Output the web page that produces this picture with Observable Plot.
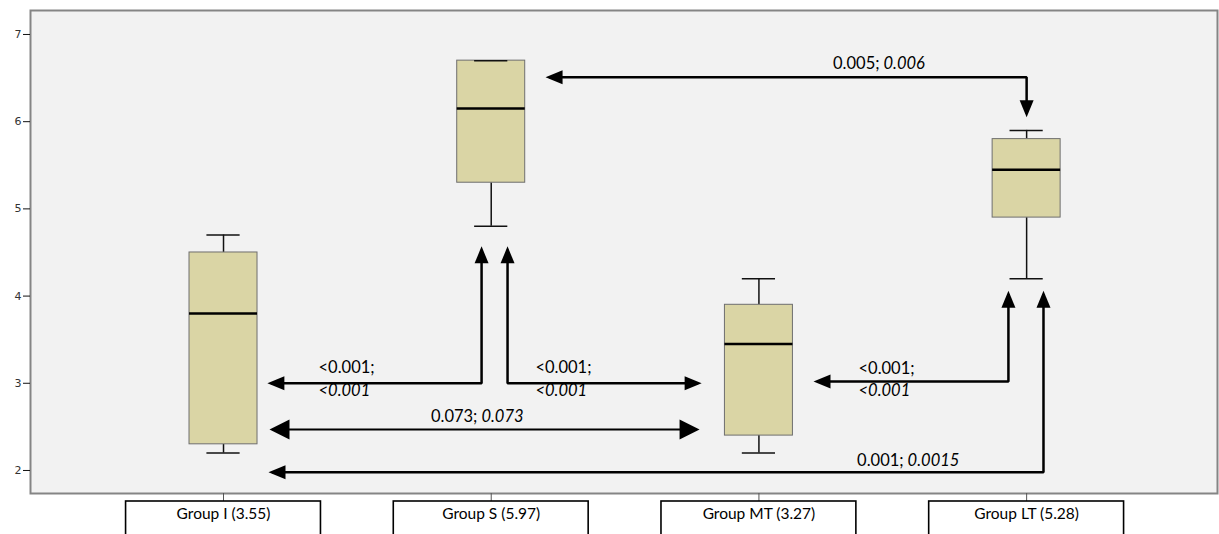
<!DOCTYPE html>
<html><head><meta charset="utf-8">
<script src="https://cdn.jsdelivr.net/npm/d3@7"></script>
<script src="https://cdn.jsdelivr.net/npm/@observablehq/plot@0.6"></script>
<style>
body{margin:0;background:#fff;}
g[aria-label="arrowhead"]{filter:drop-shadow(2px 3px 2px rgba(0,0,0,0.45));}
g[aria-label="group box"]{filter:drop-shadow(2px 3px 3px rgba(0,0,0,0.3));}
</style></head><body><div id="chart"></div>
<script>
// ---- data ----
const groups = ["Group I", "Group S", "Group MT", "Group LT"];
const groupMeans = [3.55, 5.97, 3.27, 5.28];
const whiskerLow = [2.2, 4.8, 2.2, 4.2];
const quartile1 = [2.3, 5.3, 2.4, 4.9];
const medians = [3.8, 6.15, 3.45, 5.45];
const quartile3 = [4.5, 6.7, 3.9, 5.8];
const whiskerHigh = [4.7, 6.7, 4.2, 5.9];
const yTicks = [2, 3, 4, 5, 6, 7];

// comparison connectors: [group position, value]
const connectorIS   = [[0.177, 3.0], [0.964, 3.0], [0.964, 4.53]];
const connectorSMT  = [[1.061, 4.53], [1.061, 3.0], [1.773, 3.0]];
const connectorMTLT = [[2.217, 3.02], [2.932, 3.02], [2.932, 4.02]];
const connectorILT  = [[0.181, 1.98], [3.063, 1.98], [3.063, 4.02]];
const connectorSLT  = [[1.216, 6.51], [3.0, 6.51], [3.0, 6.09]];
const connectorIMT  = [[0.183, 2.47], [1.767, 2.47]];

// p-value labels (upright; italic)
const stackedLabels = [
  {x: 0.355, yA: 3.18, yB: 2.92, p: "<0.001;", q: "<0.001"},
  {x: 1.165, yA: 3.18, yB: 2.92, p: "<0.001;", q: "<0.001"},
  {x: 2.372, yA: 3.17, yB: 2.92, p: "<0.001;", q: "<0.001"}
];
const inlineLabels = [
  {x: 0.956, y: 2.62, p: "0.073;", q: "0.073"},
  {x: 2.548, y: 2.115, p: "0.001;", q: "0.0015"},
  {x: 2.458, y: 6.66, p: "0.005;", q: "0.006"}
];

// ---- build ----
const rows = groups.map((g, i) => ({
  i, label: `${g} (${groupMeans[i].toFixed(2)})`,
  lo: whiskerLow[i], q1: quartile1[i], med: medians[i], q3: quartile3[i], hi: whiskerHigh[i]
}));
const boxHalf = 0.127, capHalf = 0.062, labelHalf = 0.364;
const yMin = 1.736, yMax = 7.275;

function toPts(arr, id) { return arr.map(([x, y]) => ({x, y, id})); }
const thick = [connectorIS, connectorSMT, connectorMTLT, connectorILT, connectorSLT];
const linePts = thick.flatMap((c, k) => toPts(c, k));
const thinPts = toPts(connectorIMT, 99);

function dirOf(a, b) { // pointing from b toward end point a
  const dx = a[0] - b[0], dy = a[1] - b[1];
  if (dx === 0) return dy > 0 ? 0 : 180;
  return dx > 0 ? 90 : -90;
}
function headsOf(c) {
  const n = c.length;
  return [
    {x: c[0][0], y: c[0][1], rot: dirOf(c[0], c[1])},
    {x: c[n-1][0], y: c[n-1][1], rot: dirOf(c[n-1], c[n-2])}
  ];
}
const heads = thick.flatMap(headsOf);
const bigHeads = headsOf(connectorIMT);

function headSymbol(L, W, off) {
  return {draw(ctx) {
    ctx.moveTo(0, -off); ctx.lineTo(W / 2, L - off); ctx.lineTo(-W / 2, L - off); ctx.closePath();
  }};
}

const chart = Plot.plot({
  width: 1219, height: 534,
  marginLeft: 30, marginRight: 2, marginTop: 10, marginBottom: 41,
  style: {fontFamily: "Lato", fontSize: "16.5px", background: "white", color: "#000"},
  x: {type: "linear", domain: [-0.721, 3.713]},
  y: {domain: [yMin, yMax]},
  marks: [
    Plot.frame({fill: "#f2f2f2", stroke: "none"}),
    Plot.ruleX(rows, {x: "i", y1: "q3", y2: "hi", stroke: "#111", strokeWidth: 1.5}),
    Plot.ruleX(rows, {x: "i", y1: "lo", y2: "q1", stroke: "#111", strokeWidth: 1.5}),
    Plot.rect(rows, {x1: d => d.i - boxHalf, x2: d => d.i + boxHalf, y1: "q1", y2: "q3",
      fill: "#dad5a5", stroke: "#6e6e6e", strokeWidth: 1}),
    Plot.ruleY(rows, {y: "hi", x1: d => d.i - capHalf, x2: d => d.i + capHalf, stroke: "#111", strokeWidth: 1.5}),
    Plot.ruleY(rows, {y: "lo", x1: d => d.i - capHalf, x2: d => d.i + capHalf, stroke: "#111", strokeWidth: 1.5}),
    Plot.ruleY(rows, {y: "med", x1: d => d.i - boxHalf, x2: d => d.i + boxHalf, stroke: "#000", strokeWidth: 2.5}),
    Plot.frame({stroke: "#858585", strokeWidth: 2}),
    Plot.axisY(yTicks, {tickSize: 7, tickPadding: 2, tickFormat: "d", fontSize: 11, fontFamily: "DejaVu Sans",
      color: "#333", stroke: "#111", label: null}),
    Plot.axisX([0, 1, 2, 3], {tickSize: 8, tickFormat: () => "", stroke: "#555", label: null}),
    Plot.line(linePts, {x: "x", y: "y", z: "id", stroke: "#000", strokeWidth: 2.5,
      strokeLinejoin: "miter", strokeLinecap: "butt"}),
    Plot.line(thinPts, {x: "x", y: "y", z: "id", stroke: "#000", strokeWidth: 2,
      strokeLinecap: "butt"}),
    Plot.dot(heads, {x: "x", y: "y", rotate: "rot", r: 5, symbol: headSymbol(17, 14, 3.5),
      fill: "#000", stroke: "none", ariaLabel: "arrowhead"}),
    Plot.dot(bigHeads, {x: "x", y: "y", rotate: "rot", r: 5, symbol: headSymbol(20, 20, 3),
      fill: "#000", stroke: "none", ariaLabel: "arrowhead"}),
    Plot.text(stackedLabels, {x: "x", y: "yA", text: "p", textAnchor: "start", fill: "#000"}),
    Plot.text(stackedLabels, {x: "x", y: "yB", text: "q", textAnchor: "start", fontStyle: "italic", fill: "#000"}),
    Plot.text(inlineLabels, {x: "x", y: "y", text: "p", textAnchor: "end", dx: -2, fill: "#000"}),
    Plot.text(inlineLabels, {x: "x", y: "y", text: "q", textAnchor: "start", dx: 2, fontStyle: "italic", fill: "#000"}),
    Plot.rect(rows, {x1: d => d.i - labelHalf, x2: d => d.i + labelHalf, y1: yMin, y2: yMin,
      insetTop: 8, insetBottom: -48, fill: "white", stroke: "#000", strokeWidth: 1.6, ariaLabel: "group box"}),
    Plot.text(rows, {x: "i", text: "label", frameAnchor: "bottom", dy: 25, fontSize: 15.5, fill: "#000"})
  ]
});
document.getElementById("chart").appendChild(chart);
</script></body></html>
